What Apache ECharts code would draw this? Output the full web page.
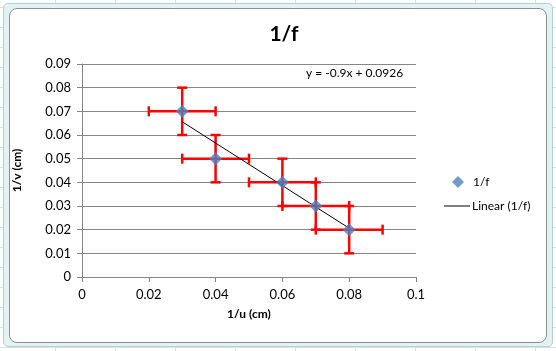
<!DOCTYPE html>
<html><head><meta charset="utf-8">
<script src="https://cdn.jsdelivr.net/npm/echarts@6/dist/echarts.min.js"></script>
<style>
html,body{margin:0;padding:0;width:556px;height:351px;overflow:hidden;background:#fff;}
#bg{position:absolute;left:0;top:0;width:556px;height:351px;
background-image:linear-gradient(to right, transparent 55px, #dadfe8 55px, #dadfe8 56px, transparent 56px),
linear-gradient(to bottom, transparent 7px, #dadfe8 7px, #dadfe8 8px, transparent 8px);
background-size:60px 351px, 556px 20px;}
#frame{position:absolute;left:3px;top:3px;width:548px;height:342px;background:#e3f3f3;border:1px solid #b7d0d4;border-radius:5px;}
#inner{position:absolute;left:9px;top:8px;width:536px;height:333px;background:#fff;border:1px solid #8e8e8e;border-radius:8px;}
#chart{position:absolute;left:0;top:0;width:556px;height:351px;}
</style></head>
<body>
<div id="bg"></div><div id="frame"></div><div id="inner"></div>
<div id="chart"></div>
<script>
const xValues = [0.03, 0.04, 0.06, 0.07, 0.08];
const yValues = [0.07, 0.05, 0.04, 0.03, 0.02];
const xErrors = [0.01, 0.01, 0.01, 0.01, 0.01];
const yErrors = [0.01, 0.01, 0.01, 0.01, 0.01];
const trendSlope = -0.9;
const trendIntercept = 0.0926;
const trendRange = [0.03, 0.08];
const trendLabel = 'y = -0.9x + 0.0926';
const seriesName = '1/f';
const trendName = 'Linear (1/f)';

const font = 'Lato, "Open Sans", sans-serif';
const chart = echarts.init(document.getElementById('chart'), null, {renderer:'canvas'});
const pts = xValues.map((x,i)=>[x, yValues[i]]);
const errData = xValues.map((x,i)=>[x, yValues[i], xErrors[i], yErrors[i]]);
const trendData = trendRange.map(x=>[x, +(trendSlope*x+trendIntercept).toFixed(6)]);

chart.setOption({
  animation:false,
  backgroundColor:'transparent',
  title:{text:'1/f', left:279, top:19, textAlign:'center',
    textStyle:{fontFamily:font, fontSize:21, fontWeight:'bold', color:'#000'}},
  grid:{left:82, right:140, top:64, bottom:74},
  xAxis:{type:'value', min:0, max:0.1, interval:0.02,
    name:'1/u (cm)', nameLocation:'middle', nameGap:31,
    nameTextStyle:{fontFamily:font, fontSize:12, fontWeight:'bold', color:'#000'},
    axisLine:{show:true, lineStyle:{color:'#868686'}},
    axisTick:{show:true, length:5, lineStyle:{color:'#868686'}},
    splitLine:{show:false},
    axisLabel:{fontFamily:font, fontSize:13, color:'#000', margin:11,
      formatter:v=>String(+v.toFixed(2))}},
  yAxis:{type:'value', min:0, max:0.09, interval:0.01,
    name:'1/v (cm)', nameLocation:'middle', nameGap:59, nameRotate:90,
    nameTextStyle:{fontFamily:font, fontSize:12, fontWeight:'bold', color:'#000'},
    axisLine:{show:true, lineStyle:{color:'#868686'}},
    axisTick:{show:true, length:5, lineStyle:{color:'#868686'}},
    splitLine:{show:true, lineStyle:{color:'#868686'}},
    axisLabel:{fontFamily:font, fontSize:13, color:'#000', margin:11,
      formatter:v=>String(+v.toFixed(2))}},
  legend:[
    {left:452, top:176, padding:0, itemWidth:12, itemHeight:12, itemGap:0,
     textStyle:{fontFamily:font, fontSize:12, color:'#000', padding:[0,0,0,4]},
     data:[{name:seriesName, icon:'diamond', itemStyle:{color:'#4f81bd'}}]},
    {left:444, top:200, padding:0, itemWidth:26, itemHeight:2, itemGap:0,
     textStyle:{fontFamily:font, fontSize:12, color:'#000', padding:[0,0,0,-3]},
     data:[{name:trendName, icon:'path://M0,0H26V1H0Z', itemStyle:{color:'#000'}}]}
  ],
  graphic:[{type:'text', left:306, top:67,
    style:{text:trendLabel, font:'12px ' + font, fill:'#000'}}],
  series:[
    {type:'custom', name:'err', silent:true, z:2,
     renderItem:function(params, api){
       const x=api.value(0), y=api.value(1), ex=api.value(2), ey=api.value(3);
       const l=api.coord([x-ex,y]), r=api.coord([x+ex,y]);
       const t=api.coord([x,y+ey]), b=api.coord([x,y-ey]);
       const c=5;
       const st={stroke:'#ff0000', lineWidth:2.5};
       return {type:'group', children:[
         {type:'line', shape:{x1:l[0],y1:l[1],x2:r[0],y2:r[1]}, style:st},
         {type:'line', shape:{x1:l[0],y1:l[1]-c,x2:l[0],y2:l[1]+c}, style:st},
         {type:'line', shape:{x1:r[0],y1:r[1]-c,x2:r[0],y2:r[1]+c}, style:st},
         {type:'line', shape:{x1:t[0],y1:t[1],x2:b[0],y2:b[1]}, style:st},
         {type:'line', shape:{x1:t[0]-c,y1:t[1],x2:t[0]+c,y2:t[1]}, style:st},
         {type:'line', shape:{x1:b[0]-c,y1:b[1],x2:b[0]+c,y2:b[1]}, style:st}
       ]};
     },
     data:errData},
    {type:'line', name:trendName, data:trendData, z:3, symbol:'none', showSymbol:false,
     lineStyle:{color:'#000', width:1}, itemStyle:{color:'#000'}},
    {type:'scatter', name:seriesName, data:pts, z:4, symbol:'diamond', symbolSize:13,
     itemStyle:{color:'#4f81bd'}}
  ]
});
</script>
</body></html>
